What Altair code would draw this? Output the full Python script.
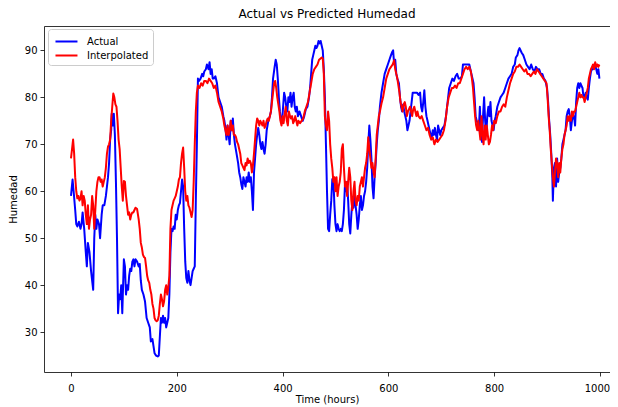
import altair as alt
import pandas as pd

# ---- data ----
actual_hours = [0,3,5,8,10,12,15,18,20,22,25,28,30,32,35,38,42,44,46,48,50,53,55,58,60,63,66,70,72,74,76,77,79,81,83,85,87,89,91,93,95,97,100,102,104,106,108,110,112,114,116,118,120,122,125,128,130,132,134,137,140,143,146,149,151,154,156,158,161,164,166,168,170,172,174,176,178,180,182,184,186,188,190,192,194,196,198,200,202,204,206,208,210,212,214,216,218,220,222,224,226,228,230,232,234,236,238,240,242,245,248,250,252,255,257,260,262,264,266,268,270,273,276,279,282,285,288,290,292,294,296,298,300,302,304,306,308,310,313,316,318,320,322,324,326,328,330,332,334,336,338,340,342,344,346,348,350,352,354,356,358,360,362,364,366,368,370,373,376,378,380,382,385,387,389,391,393,395,397,399,401,403,405,407,409,411,413,415,417,419,421,423,425,427,429,432,435,438,441,444,447,450,452,454,456,458,460,462,464,466,468,470,472,474,476,478,480,482,484,486,488,490,492,494,496,498,500,502,504,506,508,510,512,514,516,518,520,522,524,526,528,530,532,534,536,538,540,542,544,546,548,550,552,554,556,558,560,562,564,566,568,570,572,574,576,578,580,582,584,587,590,593,596,599,602,605,607,609,611,613,615,617,620,622,624,626,628,630,632,634,636,638,640,642,644,646,648,651,654,657,660,662,664,666,668,670,672,674,676,678,680,682,684,686,688,690,692,694,696,698,700,703,706,709,712,715,718,721,724,727,730,733,736,739,741,744,747,750,753,755,757,759,761,763,765,767,769,771,773,775,777,779,781,783,785,787,789,791,793,795,797,799,801,803,806,809,812,815,818,821,824,827,830,833,836,839,841,844,846,848,850,852,855,858,861,864,867,870,873,876,879,882,885,888,891,894,897,900,902,904,906,908,910,911,913,915,917,919,921,923,925,927,929,931,933,935,937,939,941,943,945,947,949,951,953,955,957,959,961,963,965,967,969,971,973,975,977,979,981,983,985,987,989,991,993,995,997,999]
actual_values = [59,62.5,60,56,53,52.5,53.5,52,53,55.5,52,47,44,49,47,43,39,50,55,52,54,53,50,55,57,57,59,63,66,71,73,76.5,74,76.5,72,62,50,34,38,37,40,34,45.5,44,38,40,39,42,43.5,43,45,45.5,44,45.5,45,44,44.5,41,39,38,36.5,33,32,31,28,28.5,27,25.5,25,24.8,25,29,33,32,33.5,32,33,31,32,33,38,47,52,51.5,52.5,52,55,54,56,57,57.5,60,62.5,61,52,45,41.5,40.5,43,41,40,41.5,43,43.5,44,58,70,84,83.5,84,85,84.5,85.5,86,87,86,87.5,85,86,84,84,84.5,83,80,79,78,76,75,73.5,71,74,72,70,75,73,75.5,72,70,68,66,64,63,61.5,60.5,63,62,61,63,62,64,62,63,60,56,64,67,70,72,73.5,72,70,69,70.5,69,68,70,73,75,76,77,80,84,86.5,88,87,84,80,77,75,74.5,78,81,80,78,77,80,79,81,78,80,81,78,77,78,76,77,76,75,76,77.5,78,80,82,85,88,89,90,91,90.5,91,92,91.5,92,91,90,86,80,70,60,52,51.5,55,58,62.5,63,57,53,51.5,53,52,51.5,52,51.5,53,56,61.5,60,62,58,53,51,55,58,56.5,60,57,55,52,54,57,59,56,57,59,60,62,65,70,74,71,67,61,58.5,63,66,70,73,75,78,81,83,85,86,87,88,89,89.6,90,87,88,85,84,83,80,78,77,78.5,77,76,75,73,74,75,77,79,81,81,81,81,80.5,81,78,77,79,81.5,78,76,75,74,73,72,71.5,73,72,73.5,72,71,74,73,72,73,73.5,74,76,79,82,83,84,83.5,84.5,85,84,84,84.5,87,87,87,87,87,86,85,84,83,80,76,75,74.5,73,78,72,70.5,76,80,75,72,76,78,76,79,75,74,73,75,76,78,79,80,80.5,81,82,83,84,84.5,85,86.5,87,88.5,89,90,90.5,90,89.5,89,88,87,86.5,86,87,86,85.5,86.5,86,86,85,85,84,83.5,82,79,75,72,68,63,58,65,66,61,67,62,64,65,67,70,71,72,73,76,77,77.5,76,73,75,76,76,74,79,82,83,82,83,82.5,82,80,80,81,80,79.5,82,84,85.5,86,86,86.5,87,86,85,86,84]

interp_hours = [0,2,4,6,8,10,12,14,16,18,20,22,24,26,28,30,32,34,36,38,40,42,44,46,48,50,52,54,56,58,60,62,64,66,68,70,72,74,76,78,80,82,84,86,88,90,92,94,96,98,100,102,104,106,108,110,112,114,116,118,120,122,125,128,130,132,134,136,138,140,142,144,146,148,150,152,154,156,158,160,162,164,166,168,170,172,174,176,178,180,182,184,186,188,190,192,194,196,198,200,202,204,206,208,210,212,214,216,218,220,222,224,226,228,230,232,234,236,238,240,243,246,249,252,255,258,261,264,267,270,273,276,279,282,285,288,290,292,294,296,298,300,302,304,306,308,310,312,314,316,318,320,322,324,326,328,330,332,334,336,338,340,342,344,346,348,350,352,354,356,358,360,362,364,366,368,370,372,374,376,378,380,382,384,386,388,390,392,394,396,398,400,402,404,406,408,410,412,414,416,418,420,422,424,426,428,430,433,436,439,442,445,448,451,454,457,460,463,466,469,472,474,476,478,480,482,484,486,488,490,492,494,496,498,500,502,504,506,508,510,512,514,516,518,520,522,524,526,528,530,532,534,536,538,540,542,544,546,548,550,552,554,556,558,560,562,564,566,568,570,572,574,576,578,580,582,584,587,590,593,596,599,602,605,608,611,613,615,617,619,621,623,625,627,629,631,633,635,637,639,641,643,645,647,649,651,653,655,657,660,663,666,669,672,675,678,681,684,687,690,693,696,699,702,705,708,711,714,717,720,723,726,729,732,735,738,741,744,747,750,753,756,758,760,762,764,766,768,770,772,774,776,778,780,782,784,786,788,790,792,794,796,798,800,803,806,809,812,815,818,821,824,827,830,833,836,839,842,845,848,851,854,857,860,863,866,869,872,875,878,881,884,887,890,893,896,899,901,903,905,907,909,911,913,915,917,919,921,923,925,927,929,931,933,935,937,939,941,943,945,947,949,951,953,955,957,959,961,963,965,967,969,971,973,975,977,979,981,983,985,987,989,991,993,995,997,999]
interp_values = [67,69,71,68,63,60,58.5,59,58,58.5,60,57,59,58,55,53,57,52,54,55,59,57,52,56,60,62,63,63,62,62.5,61,62,63,65,68,69.5,70,71,75,78,80.8,80,78.5,78,75,71,69,65,61,58,62.2,62,59,57,55,55.5,54,55,55.5,55.5,56,56.5,56.2,54,52,49,48,46.5,46,45.8,44,42,41,40.5,39,38,36,35,33,32.5,32.3,32.5,33.5,36,38,37,35.5,36.5,39,40,38,39.5,42,52,56,57,58,58.5,59,60,61,62.5,63,66,68,69.3,65,60,58,59,57,56.5,55.5,54.5,56,62,70,77,81,82.5,82,83,82.5,83.5,83.5,83,84,83.5,83,82,82.5,81,79,78,77,75.5,74,73,72,74,72,73,75,73,74,72,72,71.5,70.5,70,69,68,66,65.5,65,64.5,66,65.5,67,66,66.5,66,64,65.5,68,71,74,75.5,75,74,75,74.5,74,75,73.5,74,75,75.5,75,76,77,79,81,83,83.5,82,80,78.5,77,75,74,76,74.5,76.5,78,75,74,77,76,75.5,76,74.5,75,76,75,74,75,74.5,75,75.5,77,78,79,81,83,85,86,86.5,87,88,88.3,88.5,88.3,85,76,74,73,77,75,70,67,65,62,63,60,63,59,61,62,64,69,70,65,61,62,59,62,65,63,58,56,60,62,58,57,59,58,61,62,63,61,63,65,66,68,71.5,69,67,65,66,64,63,67,72,74,76,77,78.7,80,82,84,85,86,86.5,87,87.9,86,85,84,82.5,81,79,78,77,78.5,79,78,76,77,77.5,78,77,76,77.5,78,77,76,77,76,75.5,76,75,74,73,73.5,72,71,71.5,70,71,70.5,71,71.5,72,73,75,78,80,81,82,82,82.5,82,83,83,84,85,86,86.5,86,86.5,85.5,84,82,79,76,74,73,75,73,71,76,72,70,74,71,74,72,70,70.5,72,74,73,75,74.5,76,77,77,78,78.5,78,80,81.5,83,84,85,85.5,86.5,86.5,87,86.5,86,85.5,86,85,85,84.5,85,85.5,85,86,85.5,85,84.5,84,83.5,83,80,76,73,69,66,63,61,64,67,66,63,66,64,67,69,70,72,73,74,76,75,76,75,77,76,77,77,78,79,80,81,80,80.5,80,80,79,80,81,82,84,85,86,86.5,87,86,87.5,86.5,87,86.5,87]

series_names = ["Actual", "Interpolated"]
series_colors = ["#0000ff", "#ff0000"]
x_ticks = [0, 200, 400, 600, 800, 1000]
y_ticks = [30, 40, 50, 60, 70, 80, 90]

df = pd.concat([
    pd.DataFrame({"hour": actual_hours, "value": actual_values, "series": series_names[0]}),
    pd.DataFrame({"hour": interp_hours, "value": interp_values, "series": series_names[1]}),
], ignore_index=True)

FONT = "DejaVu Sans"
TXT = "#000000"

x_scale = alt.Scale(domain=[-51, 1019], nice=False, zero=False)
y_scale = alt.Scale(domain=[21.5, 95.2], nice=False, zero=False)

axis_common = dict(grid=False, format="d", labelFontSize=10, titleFontSize=10,
                   tickSize=4, tickWidth=0.8, domainWidth=0.8, domainColor=TXT,
                   tickColor=TXT, labelColor=TXT, titleColor=TXT,
                   titleFontWeight="normal")

lines = alt.Chart(df).mark_line(strokeWidth=2, strokeJoin="round", clip=True).encode(
    x=alt.X("hour:Q", scale=x_scale,
            axis=alt.Axis(values=x_ticks, title="Time (hours)", labelPadding=7,
                          titlePadding=1, labelBound=False,
                          labelOffset={"condition": {"test": "datum.value === 1000", "value": -3},
                                       "value": 0},
                          **axis_common)),
    y=alt.Y("value:Q", scale=y_scale,
            axis=alt.Axis(values=y_ticks, title="Humedad", labelPadding=3,
                          titlePadding=6, **axis_common)),
    color=alt.Color("series:N",
                    scale=alt.Scale(domain=series_names, range=series_colors),
                    legend=alt.Legend(title=None, orient="none", legendX=4, legendY=3,
                                      symbolType="M-0.71,0L2.4,0", symbolSize=200,
                                      symbolStrokeWidth=2, labelFontSize=10,
                                      labelColor=TXT, labelOffset=18, rowPadding=0,
                                      padding=4, fillColor="white",
                                      strokeColor="#cccccc", cornerRadius=3)),
)

# top spine: an unlabeled x axis along the top edge
top_spine = alt.Chart(df).mark_point(opacity=0).encode(
    x=alt.X("hour:Q", scale=x_scale,
            axis=alt.Axis(orient="top", labels=False, ticks=False, title=None,
                          domain=True, domainColor=TXT, domainWidth=0.8, grid=False)),
    y=alt.Y("value:Q", scale=y_scale),
)

chart = alt.layer(lines, top_spine).resolve_axis(x="independent").properties(
    width=566,
    height=346,
    title=alt.TitleParams("Actual vs Predicted Humedad", fontSize=12,
                          fontWeight="normal", color=TXT, offset=5, anchor="middle"),
    padding={"left": 36, "top": 18, "right": 0, "bottom": 35},
    autosize=alt.AutoSizeParams(type="none"),
).configure(
    font=FONT,
).configure_view(
    stroke=None,
)

chart.save("out.html", embed_options={"renderer": "svg", "actions": False})
